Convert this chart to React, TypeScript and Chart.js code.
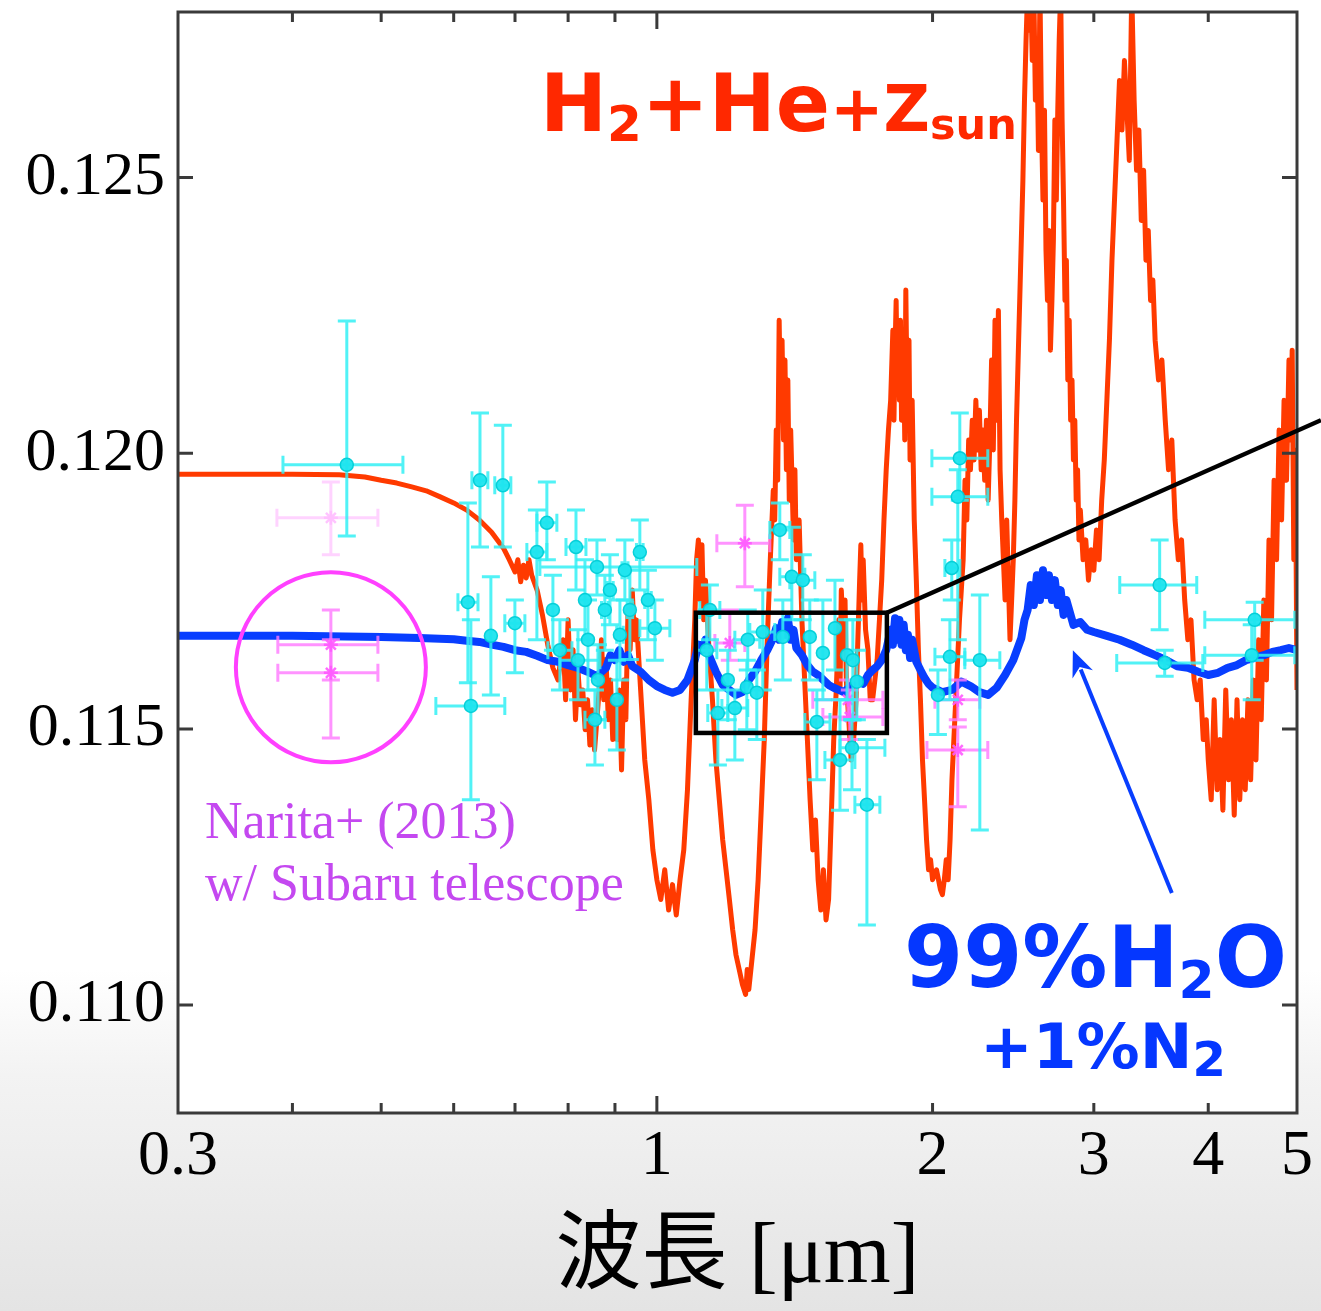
import React, { useEffect, useRef } from 'react';
import { Chart, registerables } from 'chart.js';
Chart.register(...registerables);

// ---------- axes ----------
const xTickValues = [0.3, 0.4, 0.5, 0.6, 0.7, 0.8, 0.9, 1, 2, 3, 4, 5];
const xLabelled = [0.3, 1, 2, 3, 4, 5];
const yTickValues = [0.11, 0.115, 0.12, 0.125];
const xMin = 0.3, xMax = 5;
const yMin = 0.10804, yMax = 0.128;

// ---------- H2+He+Zsun model (red) ----------
const redWl = [0.300,0.350,0.400,0.450,0.480,0.500,0.520,0.540,0.560,0.580,0.600,0.620,0.640,0.660,0.680,0.690,0.700,0.705,0.710,0.715,0.720,0.725,0.730,0.740,0.750,0.760,0.770,0.780,0.790,0.795,0.800,0.805,0.810,0.815,0.820,0.825,0.830,0.835,0.840,0.845,0.850,0.855,0.860,0.865,0.870,0.875,0.880,0.885,0.890,0.895,0.900,0.905,0.910,0.915,0.920,0.925,0.930,0.935,0.940,0.945,0.950,0.960,0.970,0.980,0.990,1.000,1.010,1.020,1.030,1.040,1.050,1.060,1.070,1.080,1.090,1.100,1.105,1.110,1.115,1.120,1.125,1.130,1.140,1.150,1.160,1.170,1.180,1.190,1.200,1.210,1.220,1.230,1.240,1.250,1.255,1.260,1.270,1.280,1.290,1.300,1.310,1.320,1.330,1.340,1.345,1.350,1.355,1.360,1.365,1.370,1.375,1.380,1.385,1.390,1.395,1.400,1.410,1.415,1.420,1.430,1.440,1.450,1.460,1.470,1.480,1.490,1.500,1.510,1.520,1.530,1.540,1.550,1.560,1.570,1.580,1.585,1.590,1.600,1.605,1.610,1.620,1.630,1.640,1.650,1.660,1.665,1.670,1.675,1.680,1.690,1.700,1.710,1.720,1.730,1.740,1.750,1.760,1.770,1.780,1.790,1.800,1.810,1.815,1.820,1.825,1.830,1.835,1.840,1.845,1.850,1.860,1.865,1.870,1.875,1.880,1.885,1.890,1.900,1.910,1.920,1.930,1.940,1.950,1.960,1.970,1.980,1.990,2.000,2.020,2.040,2.050,2.060,2.070,2.080,2.090,2.100,2.120,2.140,2.160,2.170,2.180,2.190,2.200,2.210,2.220,2.230,2.240,2.250,2.260,2.270,2.280,2.290,2.300,2.310,2.320,2.330,2.340,2.350,2.360,2.370,2.380,2.390,2.400,2.410,2.420,2.430,2.440,2.450,2.460,2.470,2.480,2.490,2.500,2.510,2.520,2.530,2.540,2.550,2.560,2.570,2.580,2.590,2.600,2.610,2.620,2.630,2.640,2.650,2.660,2.670,2.680,2.690,2.700,2.710,2.720,2.730,2.740,2.750,2.760,2.770,2.780,2.790,2.800,2.810,2.820,2.830,2.840,2.850,2.860,2.870,2.880,2.890,2.900,2.920,2.940,2.960,2.980,3.000,3.020,3.040,3.060,3.080,3.100,3.120,3.140,3.160,3.180,3.200,3.220,3.240,3.260,3.280,3.300,3.320,3.340,3.360,3.380,3.400,3.420,3.440,3.460,3.480,3.500,3.530,3.560,3.590,3.620,3.650,3.680,3.710,3.740,3.770,3.800,3.830,3.860,3.890,3.920,3.950,3.980,4.000,4.030,4.060,4.090,4.120,4.150,4.180,4.210,4.240,4.270,4.300,4.330,4.360,4.390,4.420,4.450,4.480,4.510,4.540,4.570,4.600,4.630,4.660,4.690,4.720,4.750,4.780,4.810,4.840,4.870,4.900,4.920,4.940,4.960,4.980,5.000];
const redVal = [0.11962,0.11962,0.11962,0.11961,0.11957,0.11951,0.11946,0.11939,0.11932,0.11921,0.11910,0.11897,0.11879,0.11857,0.11828,0.11807,0.11785,0.11807,0.11767,0.11797,0.11774,0.11807,0.11779,0.11752,0.11707,0.11653,0.11611,0.11589,0.11662,0.11553,0.11698,0.11571,0.11644,0.11517,0.11607,0.11544,0.11571,0.11499,0.11553,0.11471,0.11535,0.11462,0.11517,0.11571,0.11662,0.11553,0.11626,0.11517,0.11589,0.11481,0.11553,0.11481,0.11571,0.11426,0.11589,0.11517,0.11716,0.11644,0.11752,0.11662,0.11698,0.11571,0.11444,0.11372,0.11281,0.11227,0.11191,0.11245,0.11172,0.11218,0.11163,0.11227,0.11281,0.11390,0.11553,0.11698,0.11807,0.11843,0.11734,0.11834,0.11698,0.11770,0.11644,0.11553,0.11444,0.11372,0.11299,0.11245,0.11191,0.11136,0.11091,0.11064,0.11037,0.11019,0.11064,0.11028,0.11082,0.11136,0.11227,0.11353,0.11481,0.11662,0.11807,0.11933,0.11879,0.12042,0.11951,0.12241,0.12060,0.12205,0.12024,0.12169,0.11970,0.12133,0.11915,0.12042,0.11843,0.11970,0.11807,0.11879,0.11698,0.11589,0.11481,0.11372,0.11281,0.11335,0.11227,0.11172,0.11245,0.11154,0.11191,0.11335,0.11481,0.11571,0.11698,0.11571,0.11752,0.11644,0.11734,0.11589,0.11517,0.11444,0.11481,0.11553,0.11698,0.11770,0.11834,0.11734,0.11807,0.11680,0.11644,0.11553,0.11553,0.11589,0.11626,0.11698,0.11770,0.11879,0.11970,0.12042,0.12096,0.12223,0.12060,0.12187,0.12277,0.12133,0.12223,0.12096,0.12241,0.12060,0.12169,0.12024,0.12296,0.12133,0.12060,0.12205,0.11988,0.12096,0.11879,0.11770,0.11644,0.11553,0.11444,0.11372,0.11299,0.11245,0.11263,0.11227,0.11245,0.11209,0.11200,0.11227,0.11263,0.11227,0.11299,0.11408,0.11553,0.11698,0.11807,0.11951,0.11879,0.12024,0.11970,0.12060,0.11988,0.12096,0.12006,0.12078,0.11970,0.12042,0.11951,0.12060,0.11915,0.12024,0.12169,0.12006,0.12241,0.12060,0.12259,0.11970,0.11879,0.11807,0.11734,0.11879,0.11770,0.11662,0.11734,0.11807,0.11915,0.12060,0.12169,0.12277,0.12386,0.12495,0.12640,0.12749,0.12839,0.12767,0.12839,0.12712,0.12839,0.12640,0.12749,0.12549,0.12839,0.12604,0.12459,0.12622,0.12368,0.12277,0.12404,0.12187,0.12277,0.12386,0.12604,0.12459,0.12622,0.12749,0.12839,0.12604,0.12459,0.12277,0.12350,0.12133,0.12241,0.12060,0.12133,0.11988,0.12060,0.11915,0.11970,0.11843,0.11897,0.11807,0.11843,0.11770,0.11825,0.11788,0.11861,0.11807,0.11915,0.11988,0.12096,0.12205,0.12350,0.12459,0.12567,0.12676,0.12586,0.12712,0.12622,0.12531,0.12839,0.12640,0.12513,0.12586,0.12422,0.12513,0.12350,0.12404,0.12277,0.12314,0.12205,0.12133,0.12169,0.12060,0.11970,0.12024,0.11879,0.11807,0.11843,0.11734,0.11662,0.11698,0.11589,0.11553,0.11589,0.11481,0.11517,0.11444,0.11372,0.11553,0.11390,0.11481,0.11353,0.11571,0.11408,0.11517,0.11344,0.11553,0.11372,0.11517,0.11390,0.11553,0.11408,0.11589,0.11444,0.11662,0.11517,0.11734,0.11589,0.11843,0.11698,0.11951,0.11807,0.12042,0.11879,0.12096,0.11951,0.12169,0.12024,0.12187,0.11807,0.12006,0.11571];

// ---------- 99% H2O + 1% N2 model (blue) ----------
const blueWl = [0.30,0.40,0.50,0.55,0.60,0.62,0.64,0.66,0.68,0.70,0.72,0.74,0.76,0.78,0.80,0.82,0.84,0.86,0.88,0.89,0.90,0.91,0.92,0.93,0.94,0.96,0.98,1.00,1.02,1.04,1.06,1.08,1.10,1.11,1.12,1.13,1.14,1.16,1.18,1.20,1.22,1.24,1.26,1.28,1.30,1.32,1.34,1.35,1.36,1.37,1.38,1.39,1.40,1.41,1.42,1.44,1.46,1.48,1.50,1.52,1.54,1.56,1.58,1.60,1.62,1.64,1.66,1.68,1.70,1.72,1.74,1.76,1.78,1.80,1.81,1.82,1.83,1.84,1.85,1.86,1.87,1.88,1.89,1.90,1.92,1.94,1.96,1.98,2.00,2.05,2.10,2.15,2.20,2.25,2.30,2.35,2.40,2.45,2.50,2.52,2.54,2.56,2.58,2.60,2.62,2.64,2.66,2.68,2.70,2.72,2.74,2.76,2.78,2.80,2.85,2.90,2.95,3.00,3.10,3.20,3.30,3.40,3.50,3.60,3.70,3.80,3.90,4.00,4.10,4.20,4.30,4.40,4.50,4.60,4.70,4.80,4.90,5.00];
const blueVal = [0.11669,0.11669,0.11667,0.11665,0.11663,0.11660,0.11658,0.11653,0.11649,0.11643,0.11640,0.11633,0.11625,0.11622,0.11616,0.11611,0.11604,0.11596,0.11611,0.11634,0.11625,0.11643,0.11622,0.11634,0.11614,0.11604,0.11589,0.11578,0.11571,0.11566,0.11571,0.11589,0.11625,0.11653,0.11643,0.11662,0.11634,0.11604,0.11580,0.11571,0.11562,0.11567,0.11589,0.11604,0.11625,0.11643,0.11665,0.11683,0.11662,0.11694,0.11671,0.11701,0.11662,0.11680,0.11647,0.11634,0.11616,0.11604,0.11598,0.11589,0.11580,0.11575,0.11571,0.11567,0.11575,0.11582,0.11589,0.11582,0.11598,0.11607,0.11614,0.11625,0.11643,0.11680,0.11653,0.11701,0.11662,0.11698,0.11653,0.11689,0.11643,0.11671,0.11629,0.11662,0.11622,0.11607,0.11593,0.11582,0.11575,0.11567,0.11571,0.11586,0.11578,0.11567,0.11562,0.11575,0.11598,0.11625,0.11665,0.11698,0.11716,0.11761,0.11725,0.11779,0.11734,0.11788,0.11743,0.11779,0.11734,0.11770,0.11725,0.11752,0.11707,0.11734,0.11689,0.11694,0.11680,0.11676,0.11669,0.11662,0.11653,0.11643,0.11634,0.11625,0.11614,0.11611,0.11604,0.11598,0.11602,0.11611,0.11616,0.11625,0.11629,0.11634,0.11640,0.11643,0.11647,0.11643];

// ---------- observed transit depths (cyan) ----------
const obsWl   = [0.4586,0.6218,0.6265,0.6410,0.6789,0.6588,0.6998,0.7396,0.7584,0.8160,0.8602,0.8201,0.8346,0.8558,0.8774,0.8887,0.9113,0.9227,0.9344,0.9581,0.9777,0.9950,0.8410,0.8624,0.7837,0.7700,0.9044,1.1426,1.1337,1.1658,1.1953,1.2166,1.2568,1.3051,1.2538,1.2857,1.3726,1.4040,1.4433,1.4689,1.5180,1.5648,1.6128,1.6368,1.6534,1.4952,1.5847,1.6333,1.6957,2.0990,2.1418,2.1310,2.0891,2.2524,2.0272,3.5401,3.5852,4.4953,4.4621,1.3622];
const obsVal  = [0.11979,0.11730,0.11542,0.11951,0.11942,0.11669,0.11692,0.11821,0.11874,0.11830,0.11794,0.11625,0.11734,0.11517,0.11716,0.11752,0.11671,0.11788,0.11716,0.11821,0.11734,0.11683,0.11662,0.11589,0.11643,0.11716,0.11553,0.11716,0.11643,0.11529,0.11589,0.11538,0.11662,0.11676,0.11576,0.11566,0.11667,0.11776,0.11770,0.11667,0.11638,0.11683,0.11634,0.11625,0.11586,0.11513,0.11444,0.11466,0.11363,0.11792,0.11991,0.11921,0.11631,0.11625,0.11562,0.11761,0.11620,0.11698,0.11634,0.11861];
const obsWlLo = [0.3906,0.6064,0.5737,0.6281,0.6653,0.6588,0.6823,0.7212,0.7396,0.7957,0.7452,0.7837,0.8346,0.8346,0.8700,0.8820,0.9040,0.9160,0.9280,0.9500,0.9700,0.9581,0.8410,0.8624,0.7603,0.7700,0.9044,1.1140,1.1057,1.1366,1.1953,1.1776,1.2166,1.2632,1.2538,1.2857,1.3726,1.3622,1.3969,1.4689,1.5180,1.5648,1.6128,1.6368,1.6534,1.4506,1.5258,1.5847,1.6452,2.0630,1.9967,1.9967,2.0119,2.1690,2.0272,3.2020,3.1779,3.9656,3.9656,1.3284];
const obsWlHi = [0.5281,0.6378,0.6823,0.6538,0.6927,0.6588,0.7176,0.7584,0.7777,0.8367,1.1057,0.8666,0.8346,0.8774,0.8850,0.8960,0.9190,0.9300,0.9410,0.9660,0.9860,1.0332,0.8410,0.8624,0.8077,0.7700,0.9044,1.1716,1.1628,1.1953,1.1953,1.2568,1.2952,1.3451,1.2538,1.2857,1.3726,1.4506,1.4876,1.4689,1.5180,1.5648,1.6128,1.6368,1.6534,1.5453,1.6452,1.7741,1.7518,2.1418,2.2980,2.2980,2.1690,2.3686,2.0272,3.8860,3.9455,4.9720,4.9720,1.3969];
const obsValLo = [0.11850,0.11584,0.11372,0.11830,0.11830,0.11562,0.11602,0.11662,0.11807,0.11752,0.11743,0.11553,0.11662,0.11435,0.11643,0.11689,0.11589,0.11734,0.11626,0.11752,0.11662,0.11625,0.11571,0.11517,0.11571,0.11643,0.11462,0.11662,0.11571,0.11435,0.11517,0.11444,0.11607,0.11571,0.11499,0.11481,0.11589,0.11698,0.11698,0.11589,0.11553,0.11607,0.11553,0.11517,0.11517,0.11408,0.11353,0.11390,0.11145,0.11734,0.11915,0.11662,0.11553,0.11317,0.11490,0.11680,0.11596,0.11625,0.11553,0.11807];
const obsValHi = [0.12240,0.11910,0.11698,0.12073,0.12051,0.11776,0.11734,0.11897,0.11948,0.11897,0.11843,0.11680,0.11807,0.11571,0.11779,0.11816,0.11734,0.11843,0.11788,0.11879,0.11788,0.11734,0.11734,0.11653,0.11698,0.11779,0.11625,0.11761,0.11716,0.11571,0.11643,0.11571,0.11716,0.11752,0.11625,0.11607,0.11734,0.11866,0.11816,0.11734,0.11734,0.11770,0.11698,0.11698,0.11643,0.11571,0.11553,0.11517,0.11481,0.11843,0.12073,0.11970,0.11698,0.11743,0.11607,0.11843,0.11643,0.11730,0.11689,0.11910];

// ---------- Narita+ (2013), Subaru (pink) ----------
const naritaWl    = [0.4406,0.4406,0.4406,1.2475,1.2013,1.6244,1.6165,2.1310,2.1310];
const naritaVal   = [0.11883,0.11653,0.11602,0.11837,0.11656,0.11522,0.11553,0.11553,0.11462];
const naritaWlLo  = [0.3847,0.3856,0.3856,1.1628,1.1570,1.5180,1.4801,2.0119,1.9720];
const naritaWlHi  = [0.4959,0.4959,0.4959,1.3284,1.2475,1.7651,1.7651,2.2524,2.2980];
const naritaValLo = [0.11816,0.11589,0.11484,0.11758,0.11625,0.11481,0.11517,0.11517,0.11359];
const naritaValHi = [0.11948,0.11716,0.11662,0.11906,0.11716,0.11571,0.11589,0.11589,0.11504];
const naritaFaint = [true,false,false,false,false,false,false,false,false];

// ---------- annotation anchors (data units) ----------
const zoomBox = { wl0: 1.103, wl1: 1.783, v0: 0.11493, v1: 0.11711 };
const zoomLineEnd = { wl: 5.31, v: 0.1206 };
const circleCenter = { wl: 0.4406, v: 0.11612 };
const arrowTail = { wl: 3.65, v: 0.11203 };
const arrowHead = { wl: 2.846, v: 0.11643 };

const RED = 'rgb(255,58,0)';
const RED_TEXT = 'rgb(255,40,0)';
const BLUE = 'rgb(8,62,255)';
const BLUE_TEXT = 'rgb(5,55,255)';
const CYAN_BAR = 'rgba(50,240,245,0.85)';
const CYAN_PT = 'rgba(30,228,238,0.95)';

function drawErrorBars(chart: any, wl: number[], val: number[], wlLo: number[], wlHi: number[], vLo: number[], vHi: number[], colorFor: (i: number) => string) {
  const { ctx, chartArea: a } = chart;
  const xs = chart.scales.x, ys = chart.scales.y;
  ctx.save();
  ctx.beginPath();
  ctx.rect(a.left, a.top, a.right - a.left, a.bottom - a.top);
  ctx.clip();
  ctx.lineWidth = 3;
  const cap = 9;
  for (let i = 0; i < wl.length; i++) {
    ctx.strokeStyle = colorFor(i);
    const px = xs.getPixelForValue(wl[i]);
    const py = ys.getPixelForValue(val[i]);
    const y0 = ys.getPixelForValue(vLo[i]);
    const y1 = ys.getPixelForValue(vHi[i]);
    ctx.beginPath();
    ctx.moveTo(px, y0); ctx.lineTo(px, y1);
    ctx.moveTo(px - cap, y0); ctx.lineTo(px + cap, y0);
    ctx.moveTo(px - cap, y1); ctx.lineTo(px + cap, y1);
    if (wlHi[i] > wlLo[i]) {
      const x0 = xs.getPixelForValue(wlLo[i]);
      const x1 = xs.getPixelForValue(wlHi[i]);
      ctx.moveTo(x0, py); ctx.lineTo(x1, py);
      ctx.moveTo(x0, py - cap); ctx.lineTo(x0, py + cap);
      ctx.moveTo(x1, py - cap); ctx.lineTo(x1, py + cap);
    }
    ctx.stroke();
  }
  ctx.restore();
}

function drawRuns(ctx: CanvasRenderingContext2D, x: number, runs: [string, number, number][], color: string, family: string) {
  ctx.fillStyle = color;
  ctx.textBaseline = 'alphabetic';
  ctx.textAlign = 'left';
  let cx = x;
  for (const [t, size, base] of runs) {
    ctx.font = `bold ${size}px ${family}`;
    ctx.fillText(t, cx, base);
    cx += ctx.measureText(t).width;
  }
}

const decor = {
  id: 'decor',
  beforeDraw(chart: any) {
    const { ctx, chartArea: a } = chart;
    ctx.save();
    ctx.fillStyle = '#ffffff';
    ctx.fillRect(a.left, a.top, a.right - a.left, a.bottom - a.top);
    ctx.restore();
  },
  beforeDatasetDraw(chart: any, args: any) {
    if (args.index === 0) {
      drawErrorBars(chart, obsWl, obsVal, obsWlLo, obsWlHi, obsValLo, obsValHi, () => CYAN_BAR);
    } else if (args.index === 1) {
      drawErrorBars(chart, naritaWl, naritaVal, naritaWlLo, naritaWlHi, naritaValLo, naritaValHi,
        (i) => (naritaFaint[i] ? 'rgba(255,200,255,0.8)' : 'rgba(255,120,255,0.8)'));
    }
  },
  afterDatasetsDraw(chart: any) {
    const { ctx, chartArea: a } = chart;
    const xs = chart.scales.x, ys = chart.scales.y;
    ctx.save();
    // frame
    ctx.strokeStyle = '#3a3a3a';
    ctx.lineWidth = 3;
    ctx.strokeRect(a.left, a.top, a.right - a.left, a.bottom - a.top);
    // ticks
    ctx.beginPath();
    for (const v of yTickValues) {
      const py = ys.getPixelForValue(v);
      ctx.moveTo(a.left, py); ctx.lineTo(a.left + 15, py);
      ctx.moveTo(a.right, py); ctx.lineTo(a.right - 15, py);
    }
    for (const v of xTickValues) {
      if (v === xMin || v === xMax) continue;
      const px = xs.getPixelForValue(v);
      const len = v === 1 ? 17 : 10;
      ctx.moveTo(px, a.bottom); ctx.lineTo(px, a.bottom - len);
      ctx.moveTo(px, a.top); ctx.lineTo(px, a.top + len);
    }
    ctx.stroke();

    // zoom box and connector
    ctx.strokeStyle = '#000';
    ctx.lineWidth = 4.5;
    const bx0 = xs.getPixelForValue(zoomBox.wl0), bx1 = xs.getPixelForValue(zoomBox.wl1);
    const by0 = ys.getPixelForValue(zoomBox.v1), by1 = ys.getPixelForValue(zoomBox.v0);
    ctx.strokeRect(bx0, by0, bx1 - bx0, by1 - by0);
    ctx.beginPath();
    ctx.moveTo(bx1, by0);
    ctx.lineTo(xs.getPixelForValue(zoomLineEnd.wl), ys.getPixelForValue(zoomLineEnd.v));
    ctx.stroke();

    // circle around Narita points
    ctx.strokeStyle = 'rgb(255,64,255)';
    ctx.lineWidth = 4;
    ctx.beginPath();
    ctx.arc(xs.getPixelForValue(circleCenter.wl), ys.getPixelForValue(circleCenter.v), 95, 0, Math.PI * 2);
    ctx.stroke();

    // blue arrow
    const tx = xs.getPixelForValue(arrowTail.wl), ty = ys.getPixelForValue(arrowTail.v);
    const hx = xs.getPixelForValue(arrowHead.wl), hy = ys.getPixelForValue(arrowHead.v);
    const ang = Math.atan2(hy - ty, hx - tx);
    const hl = 26, hw = 11;
    ctx.strokeStyle = BLUE;
    ctx.fillStyle = BLUE;
    ctx.lineWidth = 4;
    ctx.beginPath();
    ctx.moveTo(tx, ty);
    ctx.lineTo(hx - Math.cos(ang) * hl * 0.8, hy - Math.sin(ang) * hl * 0.8);
    ctx.stroke();
    ctx.beginPath();
    ctx.moveTo(hx, hy);
    ctx.lineTo(hx - Math.cos(ang) * hl + Math.sin(ang) * hw, hy - Math.sin(ang) * hl - Math.cos(ang) * hw);
    ctx.lineTo(hx - Math.cos(ang) * hl * 0.7, hy - Math.sin(ang) * hl * 0.7);
    ctx.lineTo(hx - Math.cos(ang) * hl - Math.sin(ang) * hw, hy - Math.sin(ang) * hl + Math.cos(ang) * hw);
    ctx.closePath();
    ctx.fill();

    // labels
    const sans = '"DejaVu Sans", sans-serif';
    drawRuns(ctx, 540, [['H', 80, 131], ['2', 50, 141], ['+He', 80, 131], ['+Z', 64, 131], ['sun', 43, 139]], RED_TEXT, sans);
    drawRuns(ctx, 904, [['99%H', 85, 987], ['2', 52, 998], ['O', 85, 987]], BLUE_TEXT, sans);
    drawRuns(ctx, 980, [['+1%N', 63, 1068], ['2', 48, 1076]], BLUE_TEXT, sans);

    ctx.fillStyle = 'rgb(196,72,240)';
    ctx.font = '52px "Liberation Serif", serif';
    ctx.textBaseline = 'alphabetic';
    ctx.textAlign = 'left';
    ctx.fillText('Narita+ (2013)', 205, 838);
    ctx.fillText('w/ Subaru telescope', 205, 900);
    ctx.restore();
  },
};

export default function App() {
  const ref = useRef<HTMLCanvasElement | null>(null);
  useEffect(() => {
    if (!ref.current) return;
    const chart = new Chart(ref.current, {
      type: 'line',
      data: {
        datasets: [
          {
            label: 'obs',
            data: obsWl.map((x, i) => ({ x, y: obsVal[i] })),
            showLine: false,
            pointRadius: 6.5,
            pointStyle: 'circle',
            pointBackgroundColor: CYAN_PT,
            pointBorderColor: 'rgba(0,205,215,0.95)',
            pointBorderWidth: 1.5,
            clip: 0,
          } as any,
          {
            label: 'narita',
            data: naritaWl.map((x, i) => ({ x, y: naritaVal[i] })),
            showLine: false,
            pointRadius: 7,
            pointStyle: 'star',
            pointBorderColor: naritaFaint.map((f) => (f ? 'rgba(255,190,255,0.9)' : 'rgba(255,90,255,0.9)')),
            pointBackgroundColor: 'rgba(255,90,255,0.9)',
            pointBorderWidth: 2.5,
            clip: 0,
          } as any,
          {
            label: 'H2O',
            data: blueWl.map((x, i) => ({ x, y: blueVal[i] })),
            borderColor: BLUE,
            borderWidth: 8,
            borderJoinStyle: 'round',
            pointRadius: 0,
            tension: 0,
            fill: false,
            clip: 0,
          } as any,
          {
            label: 'H2He',
            data: redWl.map((x, i) => ({ x, y: redVal[i] })),
            borderColor: RED,
            borderWidth: 5,
            borderJoinStyle: 'round',
            pointRadius: 0,
            tension: 0,
            fill: false,
            clip: 0,
          } as any,
        ],
      },
      options: {
        responsive: false,
        animation: false,
        devicePixelRatio: 1,
        layout: { padding: { top: 12, right: 24, left: 0, bottom: 0 } },
        plugins: { legend: { display: false }, tooltip: { enabled: false } },
        scales: {
          x: {
            type: 'logarithmic',
            min: xMin,
            max: xMax,
            grid: { display: false, drawTicks: false },
            border: { display: false },
            afterBuildTicks: (s: any) => { s.ticks = xTickValues.map((v) => ({ value: v })); },
            afterFit: (s: any) => { s.height = 198; s.paddingLeft = 0; s.paddingRight = 0; },
            ticks: {
              autoSkip: false,
              maxRotation: 0,
              minRotation: 0,
              padding: 6,
              color: '#000',
              font: { family: '"Liberation Serif", serif', size: 64 },
              callback: (v: any) => (xLabelled.includes(Number(v)) ? String(Number(v)) : ''),
            },
            title: {
              display: true,
              text: '波長 [μm]',
              color: '#000',
              font: { family: '"Liberation Serif", "Noto Sans CJK JP", serif', size: 86 },
              padding: { top: 0, bottom: 0 },
            },
          },
          y: {
            type: 'linear',
            min: yMin,
            max: yMax,
            grid: { display: false, drawTicks: false },
            border: { display: false },
            afterBuildTicks: (s: any) => { s.ticks = yTickValues.map((v) => ({ value: v })); },
            afterFit: (s: any) => { s.width = 178; s.paddingTop = 0; s.paddingBottom = 0; },
            ticks: {
              padding: 13,
              color: '#000',
              font: { family: '"Liberation Serif", serif', size: 62 },
              callback: (v: any) => Number(v).toFixed(3),
            },
          },
        },
      } as any,
      plugins: [decor],
    });
    return () => chart.destroy();
  }, []);

  return (
    <div
      style={{
        position: 'fixed',
        left: 0,
        top: 0,
        width: 1321,
        height: 1311,
        background: 'linear-gradient(to bottom, #ffffff 0%, #ffffff 74%, #f3f3f3 82%, #e4e4e4 100%)',
      }}
    >
      <canvas ref={ref} width={1321} height={1311} style={{ display: 'block' }} />
    </div>
  );
}
